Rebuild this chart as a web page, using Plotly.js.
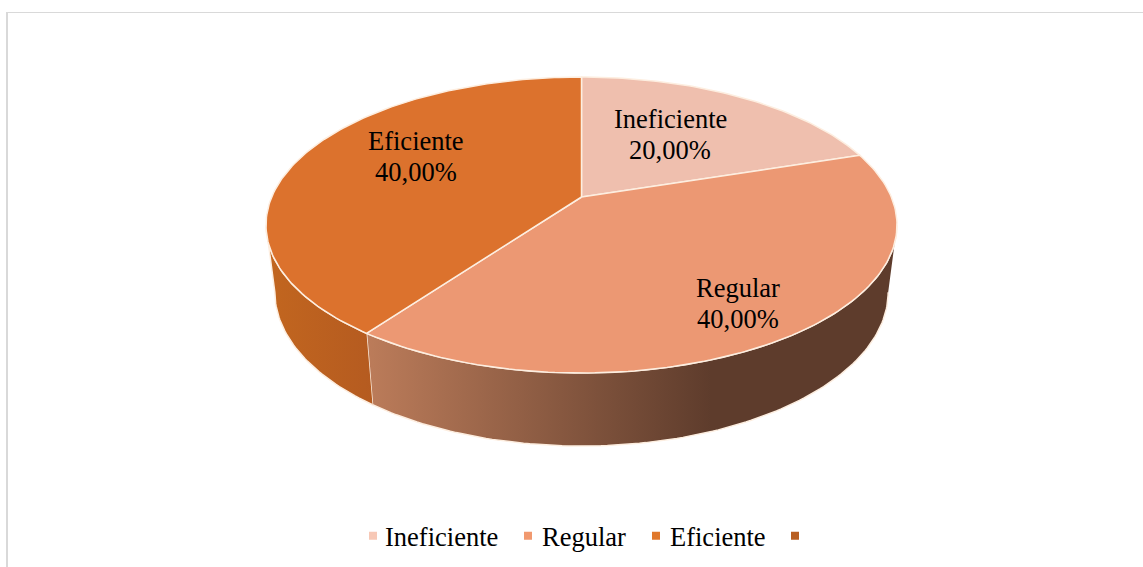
<!DOCTYPE html>
<html>
<head>
<meta charset="utf-8">
<script src="https://cdn.plot.ly/plotly-3.0.1.min.js"></script>
<style>html,body{margin:0;padding:0;background:#fff}#chart{width:1143px;height:567px}</style>
</head>
<body>
<div id="chart"></div>
<script>
// Data
const categories = ["Ineficiente", "Regular", "Eficiente"];
const values = [20, 40, 40];
const percentLabels = ["20,00%", "40,00%", "40,00%"];
const legendNames = ["Ineficiente", "Regular", "Eficiente", " "];
// Styles
const topColors = ["#efbfae", "#ec9873", "#dc722d"];
const legendColors = ["#f7c8b6", "#f1996f", "#e0782c", "#b85e21"];
const edge = "#fdeee0";
const font = "'Liberation Serif','Times New Roman',serif";

// Perspective projection of the pie disc onto the page (pixel axes)
const CX = 581.5, AY = 197, A = 309.8, B = 142.7, K = 0.1892;
const LOW_SX = 0.972, LOW_SY = 1.04, LOW_Y = 263;
function rim(deg, lower) {
  const t = deg * Math.PI / 180, u = Math.sin(t), v = Math.cos(t), w = 1 + K * v;
  const dx = A * u / w, dy = -B * v / w;
  return lower ? [CX + LOW_SX * dx, LOW_Y + LOW_SY * dy] : [CX + dx, AY + dy];
}
function arc(a, b, lower) {
  const pts = [], n = Math.max(2, Math.ceil(Math.abs(b - a)));
  for (let i = 0; i <= n; i++) pts.push(rim(a + (b - a) * i / n, lower));
  return pts;
}
const total = values.reduce((s, v) => s + v, 0);
let acc = 0;
const sectors = values.map(v => { const a = acc * 360 / total; acc += v; return [a, acc * 360 / total]; });

function poly(pts, extra) {
  return Object.assign({
    type: "scatter", mode: "lines", x: pts.map(p => p[0]), y: pts.map(p => p[1]),
    fill: "toself", showlegend: false, hoverinfo: "skip"
  }, extra);
}

const sideLeftEnd = 259, sideRightStart = 101;
const sideRegular = arc(sideRightStart, sectors[1][1], false).concat(arc(sectors[1][1], sideRightStart, true));
const sideEficiente = arc(sectors[2][0], sideLeftEnd, false).concat(arc(sideLeftEnd, sectors[2][0], true));

const traces = [];
traces.push(poly(sideRegular, {
  line: {color: edge, width: 1.5},
  fillgradient: {type: "horizontal", colorscale: [[0, "#bc7c5a"], [0.65, "#5e3c2c"], [1, "#5e3c2c"]]}
}));
traces.push(poly(sideEficiente, {
  line: {color: edge, width: 1.5},
  fillgradient: {type: "horizontal", colorscale: [[0, "#c2661f"], [1, "#b55b20"]]}
}));
sectors.forEach((s, i) => {
  const pts = [[CX, AY]].concat(arc(s[0], s[1], false)); pts.push([CX, AY]);
  traces.push(poly(pts, {fillcolor: topColors[i], line: {color: edge, width: 1.5}, name: categories[i]}));
});
legendNames.forEach((n, i) => traces.push({
  type: "scatter", mode: "markers", x: [null], y: [null], name: n, showlegend: true,
  marker: {symbol: "square", size: 8, color: legendColors[i]}, hoverinfo: "skip"
}));

const labelAnchors = [[670, 118.5, 149.5], [738, 287.5, 318.5], [416, 140.5, 171.5]];
const annotations = [];
categories.forEach((c, i) => {
  const [x, y1, y2] = labelAnchors[i];
  [[c, y1], [percentLabels[i], y2]].forEach(([text, y]) => annotations.push({
    x, y, xref: "x", yref: "y", text, showarrow: false, xanchor: "center", yanchor: "middle",
    font: {family: font, size: 26.5, color: "#000"}
  }));
});

const layout = {
  width: 1143, height: 567, margin: {l: 0, r: 0, t: 0, b: 0, autoexpand: false},
  paper_bgcolor: "#fff", plot_bgcolor: "#fff",
  xaxis: {range: [0, 1143], visible: false, fixedrange: true},
  yaxis: {range: [567, 0], visible: false, fixedrange: true},
  showlegend: true,
  legend: {
    orientation: "h", x: 0.5, xanchor: "center", y: 0.0545, yanchor: "middle",
    font: {family: font, size: 26.5, color: "#000"}, itemwidth: 30, bgcolor: "rgba(0,0,0,0)",
    traceorder: "normal", itemclick: false, itemdoubleclick: false
  },
  annotations,
  shapes: [
    {type: "line", xref: "x", yref: "y", x0: 6, x1: 1143, y0: 12.5, y1: 12.5, line: {color: "#d9d9d9", width: 1}},
    {type: "line", xref: "x", yref: "y", x0: 7, x1: 7, y0: 12, y1: 567, line: {color: "#d9d9d9", width: 2}}
  ]
};

// Legend entries: marker centres and marker-to-text gaps as in the reference
const legendMarkerCentres = [373, 528, 656, 795];
const legendTextGaps = [12, 14, 14, 12];
Plotly.newPlot("chart", traces, layout, {displayModeBar: false}).then(gd => {
  gd.querySelectorAll(".legend .traces").forEach((g, i) => {
    const m = /translate\(([-\d.]+)[ ,]*([-\d.]*)\)/.exec(g.getAttribute("transform"));
    const pt = g.querySelector(".legendpoints path").getBoundingClientRect();
    const delta = legendMarkerCentres[i] - (pt.left + pt.width / 2);
    g.setAttribute("transform", `translate(${parseFloat(m[1]) + delta},${m[2] || 0})`);
    const pt2 = g.querySelector(".legendpoints path").getBoundingClientRect();
    const t = g.querySelector(".legendtext");
    const tx = t.getBoundingClientRect().left;
    t.setAttribute("x", parseFloat(t.getAttribute("x")) - (tx - (pt2.left + pt2.width / 2 + legendTextGaps[i])));
  });
});
</script>
</body>
</html>
